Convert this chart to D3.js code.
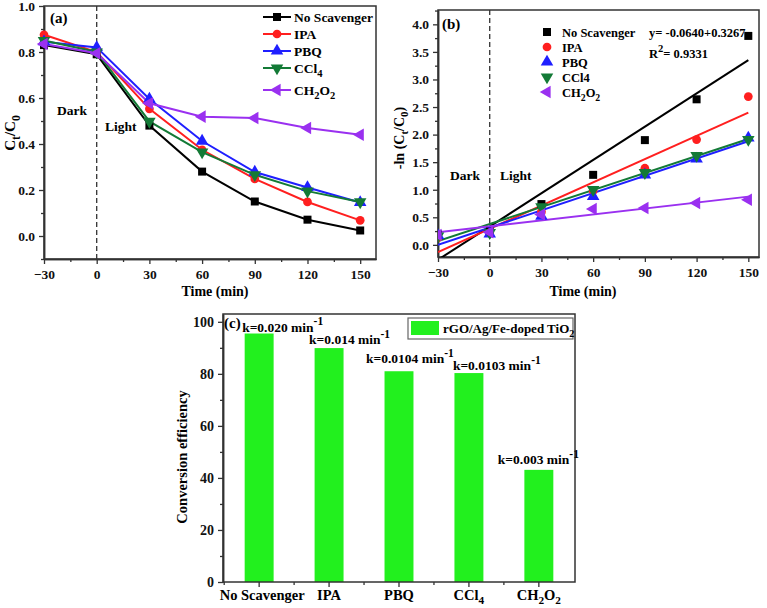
<!DOCTYPE html>
<html>
<head>
<meta charset="utf-8">
<script src="https://cdn.jsdelivr.net/npm/d3@7"></script>
<style>
  body { margin: 0; background: #fff; }
  svg { font-family: "Liberation Serif", "Times New Roman", serif; font-weight: bold; }
</style>
</head>
<body>
<svg id="chart" width="767" height="608"></svg>
<script>
// ---- data ----
const times = [-30, 0, 30, 60, 90, 120, 150];
const seriesNames = ["No Scavenger", "IPA", "PBQ", "CCl_{4}", "CH_{2}O_{2}"];
const seriesNamesB = ["No Scavenger", "IPA", "PBQ", "CCl4", "CH_{2}O_{2}"];

// (a) Ct/C0
const ratioNoScav = [0.83, 0.79, 0.48, 0.28, 0.15, 0.071, 0.024];
const ratioIPA    = [0.875, 0.80, 0.553, 0.375, 0.248, 0.148, 0.068];
const ratioPBQ    = [0.845, 0.82, 0.596, 0.413, 0.278, 0.211, 0.146];
const ratioCCl4   = [0.85, 0.80, 0.498, 0.365, 0.266, 0.195, 0.148];
const ratioCH2O2  = [0.835, 0.795, 0.577, 0.519, 0.513, 0.47, 0.44];

// (b) -ln(Ct/C0)
const lnNoScav = [0.19, 0.24, 0.74, 1.27, 1.90, 2.64, 3.79];
const lnIPA    = [0.13, 0.22, 0.60, 0.98, 1.39, 1.91, 2.69];
const lnPBQ    = [0.17, 0.20, 0.52, 0.88, 1.27, 1.56, 1.94];
const lnCCl4   = [0.16, 0.22, 0.69, 1.00, 1.31, 1.62, 1.91];
const lnCH2O2  = [0.18, 0.23, 0.55, 0.65, 0.67, 0.76, 0.82];
// linear fits: value at t=-30 and t=150
const fitStart = [-0.27, -0.13, 0.0, 0.07, 0.23];
const fitEnd   = [3.35, 2.40, 1.88, 1.92, 0.875];

// (c) conversion efficiency
const categories = ["No Scavenger", "IPA", "PBQ", "CCl_{4}", "CH_{2}O_{2}"];
const efficiency = [95.5, 89.9, 81.0, 80.3, 43.1];
const rateLabels = ["k=0.020 min^{-1}", "k=0.014 min^{-1}", "k=0.0104 min^{-1}", "k=0.0103 min^{-1}", "k=0.003 min^{-1}"];

const ratioData = [ratioNoScav, ratioIPA, ratioPBQ, ratioCCl4, ratioCH2O2];
const lnData = [lnNoScav, lnIPA, lnPBQ, lnCCl4, lnCH2O2];

// ---- style ----
const colors = ["#000000", "#ff1f1f", "#1f1fff", "#137a36", "#9a30f0"];
const symbols = [d3.symbolSquare, d3.symbolCircle, d3.symbolTriangle, d3.symbolTriangle, d3.symbolTriangle];
const symRot = [0, 0, 0, 180, -90];
const symSize = [64, 60, 68, 68, 68];
const axisColor = "#333";
const barColor = "#22f01e";

const svg = d3.select("#chart");

// text with _{sub} and ^{sup}
function rich(text, str, fs) {
  const parts = str.split(/(_\{[^}]*\}|\^\{[^}]*\})/).filter(s => s);
  let shift = 0;
  parts.forEach(p => {
    let target = 0, t = p, size = fs;
    if (p.startsWith("_{")) { target = fs * 0.3; t = p.slice(2, -1); size = fs * 0.78; }
    else if (p.startsWith("^{")) { target = -fs * 0.45; t = p.slice(2, -1); size = fs * 0.85; }
    text.append("tspan").attr("dy", target - shift).style("font-size", size + "px").text(t);
    shift = target;
  });
  return text;
}

function styleAxis(g, fs) {
  g.attr("font-family", null).attr("font-weight", "bold").attr("font-size", fs);
  g.selectAll("path.domain").attr("stroke", axisColor).attr("stroke-width", 1.5);
  g.selectAll(".tick line").attr("stroke", axisColor).attr("stroke-width", 1.3);
  g.selectAll(".tick text").attr("fill", "#111");
}

function frame(x, y) {
  const [x0, x1] = x.range(), [y0, y1] = y.range();
  svg.append("rect")
    .attr("x", x0).attr("y", y1).attr("width", x1 - x0).attr("height", y0 - y1)
    .attr("fill", "none").attr("stroke", axisColor).attr("stroke-width", 1.5);
}

function lineAxes(x, y, yMajor, yMinor, yFmt, fs) {
  const xMinor = times.slice(0, -1).map(t => t + 15);
  const bottom = y.range()[0], left = x.range()[0];
  svg.append("g").attr("transform", `translate(0,${bottom})`)
    .call(d3.axisBottom(x).tickValues(xMinor).tickSize(3).tickSizeOuter(0).tickFormat(""))
    .call(g => styleAxis(g, fs));
  svg.append("g").attr("transform", `translate(0,${bottom})`)
    .call(d3.axisBottom(x).tickValues(times).tickSize(5).tickPadding(5).tickSizeOuter(0))
    .call(g => styleAxis(g, fs));
  svg.append("g").attr("transform", `translate(${left},0)`)
    .call(d3.axisLeft(y).tickValues(yMinor).tickSize(3).tickSizeOuter(0).tickFormat(""))
    .call(g => styleAxis(g, fs));
  svg.append("g").attr("transform", `translate(${left},0)`)
    .call(d3.axisLeft(y).tickValues(yMajor).tickSize(5).tickPadding(4).tickSizeOuter(0).tickFormat(d3.format(yFmt)))
    .call(g => styleAxis(g, fs));
  frame(x, y);
}

function marker(g, i, cx, cy) {
  g.append("path")
    .attr("d", d3.symbol().type(symbols[i]).size(symSize[i])())
    .attr("transform", `translate(${cx},${cy}) rotate(${symRot[i]})`)
    .attr("fill", colors[i]);
}

// ================= (a) =================
const xA = d3.scaleLinear().domain([-30, 159]).range([44, 376]);
const yA = d3.scaleLinear().domain([-0.1, 1.0]).range([259, 6]);
lineAxes(xA, yA, d3.range(0, 1.01, 0.2), d3.range(-0.1, 1.0, 0.2), ".1f", 13.5);

svg.append("line")
  .attr("x1", xA(0)).attr("x2", xA(0)).attr("y1", yA.range()[1]).attr("y2", yA.range()[0])
  .attr("stroke", "#333").attr("stroke-width", 1.3).attr("stroke-dasharray", "5,3");

const gA = svg.append("g");
const lineA = d3.line().x((d, i) => xA(times[i])).y(d => yA(d));
ratioData.forEach((arr, s) => {
  gA.append("path").attr("d", lineA(arr))
    .attr("fill", "none").attr("stroke", colors[s]).attr("stroke-width", 2);
});
ratioData.forEach((arr, s) => {
  arr.forEach((v, i) => marker(gA, s, xA(times[i]), yA(v)));
});

svg.append("text").attr("x", 50).attr("y", 23).style("font-size", "15px").text("(a)");
svg.append("text").attr("x", 57).attr("y", 115).style("font-size", "13.5px").text("Dark");
svg.append("text").attr("x", 105).attr("y", 131).style("font-size", "13.5px").text("Light");

// legend (a)
seriesNames.forEach((name, i) => {
  const yy = 17 + i * 17 + (i === 4 ? 5 : 0);
  svg.append("line").attr("x1", 263).attr("x2", 291).attr("y1", yy).attr("y2", yy)
    .attr("stroke", colors[i]).attr("stroke-width", 2);
  marker(svg, i, 277, yy);
  rich(svg.append("text").attr("x", 294).attr("y", yy + 5), name, 13.5);
});

svg.append("text").attr("x", 215).attr("y", 296).attr("text-anchor", "middle")
  .style("font-size", "14px").text("Time (min)");
rich(svg.append("text").attr("transform", "translate(15,133) rotate(-90)")
  .attr("text-anchor", "middle"), "C_{t}/C_{0}", 15);

// ================= (b) =================
const xB = d3.scaleLinear().domain([-30, 156.2]).range([438, 759]);
const yB = d3.scaleLinear().domain([-0.22, 4.26]).range([257, 10]);
lineAxes(xB, yB, d3.range(0, 4.01, 0.5), d3.range(0.25, 4.26, 0.5), ".1f", 13.5);

svg.append("defs").append("clipPath").attr("id", "clipB")
  .append("rect").attr("x", 438).attr("y", 10).attr("width", 321).attr("height", 247);

svg.append("line")
  .attr("x1", xB(0)).attr("x2", xB(0)).attr("y1", yB.range()[1]).attr("y2", yB.range()[0])
  .attr("stroke", "#333").attr("stroke-width", 1.3).attr("stroke-dasharray", "5,3");

const gB = svg.append("g").attr("clip-path", "url(#clipB)");
fitStart.forEach((v, s) => {
  gB.append("line")
    .attr("x1", xB(-30)).attr("y1", yB(v)).attr("x2", xB(150)).attr("y2", yB(fitEnd[s]))
    .attr("stroke", colors[s]).attr("stroke-width", 2);
});
lnData.forEach((arr, s) => {
  arr.forEach((v, i) => marker(gB, s, xB(times[i]), yB(v)));
});

svg.append("text").attr("x", 442).attr("y", 29).style("font-size", "15px").text("(b)");
svg.append("text").attr("x", 450).attr("y", 180).style("font-size", "13.5px").text("Dark");
svg.append("text").attr("x", 500).attr("y", 180).style("font-size", "13.5px").text("Light");

seriesNamesB.forEach((name, i) => {
  const yy = 32 + i * 15;
  marker(svg, i, 547, yy);
  rich(svg.append("text").attr("x", 562).attr("y", yy + 5), name, 12.5);
});
svg.append("text").attr("x", 649).attr("y", 37).style("font-size", "12.5px").text("y= -0.0640+0.3267");
rich(svg.append("text").attr("x", 649).attr("y", 58), "R^{2}= 0.9331", 12.5);

svg.append("text").attr("x", 583).attr("y", 296).attr("text-anchor", "middle")
  .style("font-size", "14px").text("Time (min)");
rich(svg.append("text").attr("transform", "translate(404,138) rotate(-90)")
  .attr("text-anchor", "middle"), "-ln (C_{t}/C_{0})", 14);

// ================= (c) =================
const xC = d3.scaleBand().domain(categories).range([223, 575]).paddingInner(0.586).paddingOuter(0.31);
const yC = d3.scaleLinear().domain([0, 103]).range([582, 314]);

const centers = categories.map(c => xC(c) + xC.bandwidth() / 2);
const step = xC.step();

svg.append("g").selectAll("rect").data(efficiency).join("rect")
  .attr("x", (d, i) => xC(categories[i]))
  .attr("y", d => yC(d))
  .attr("width", xC.bandwidth())
  .attr("height", d => yC(0) - yC(d))
  .attr("fill", barColor);

// y axis
svg.append("g").attr("transform", "translate(223,0)")
  .call(d3.axisLeft(yC).tickValues(d3.range(10, 101, 20)).tickSize(3).tickSizeOuter(0).tickFormat(""))
  .call(g => styleAxis(g, 14));
svg.append("g").attr("transform", "translate(223,0)")
  .call(d3.axisLeft(yC).tickValues(d3.range(0, 101, 20)).tickSize(5).tickPadding(4).tickSizeOuter(0))
  .call(g => styleAxis(g, 14));

// x axis: ticks at centres and midpoints
const gCx = svg.append("g");
centers.forEach((cx, i) => {
  gCx.append("line").attr("x1", cx).attr("x2", cx).attr("y1", 582).attr("y2", 587)
    .attr("stroke", axisColor).attr("stroke-width", 1.3);
  gCx.append("line").attr("x1", cx - step / 2).attr("x2", cx - step / 2).attr("y1", 582).attr("y2", 585)
    .attr("stroke", axisColor).attr("stroke-width", 1.3);
  rich(gCx.append("text").attr("x", cx + (i === 0 ? 3 : 0)).attr("y", 600).attr("text-anchor", "middle"),
    categories[i], 14.5);
});
frame(d3.scaleLinear().range([223, 575]), yC);

// k labels (hand placed offsets in the original)
const kDx = [-17, -20, -33, -16, -41];
const kDy = [-2, -4, -8, -3, -6];
efficiency.forEach((v, i) => {
  rich(svg.append("text").attr("x", centers[i] + kDx[i]).attr("y", yC(v) + kDy[i]), rateLabels[i], 13.5);
});

svg.append("text").attr("x", 224).attr("y", 328).style("font-size", "15px").text("(c)");

// legend (c)
svg.append("rect").attr("x", 408).attr("y", 318).attr("width", 165).attr("height", 21)
  .attr("fill", "#fff").attr("stroke", "#666").attr("stroke-width", 1.2);
svg.append("rect").attr("x", 411).attr("y", 321).attr("width", 28).attr("height", 14).attr("fill", barColor);
rich(svg.append("text").attr("x", 443).attr("y", 333), "rGO/Ag/Fe-doped TiO_{2}", 13);

rich(svg.append("text").attr("transform", "translate(187,457) rotate(-90)")
  .attr("text-anchor", "middle"), "Conversion efficiency", 14.5);
</script>
</body>
</html>
